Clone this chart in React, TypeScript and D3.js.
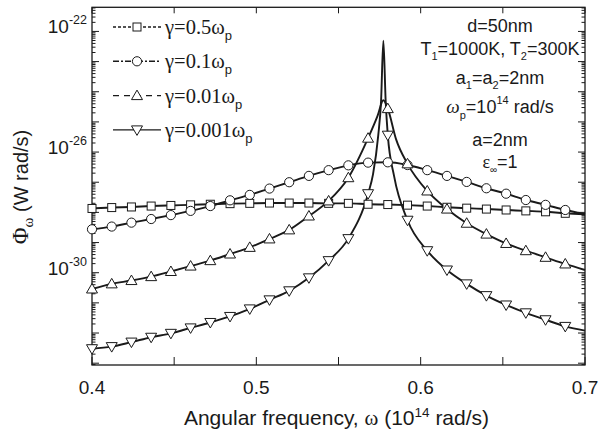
import React from 'react';
import * as d3 from 'd3';

const W = 607;
const H = 430;

// axis ticks
const X_MAJOR = [0.4, 0.5, 0.6, 0.7];
const X_MINOR = [0.45, 0.55, 0.65];
const X_LABELS = ['0.4', '0.5', '0.6', '0.7'];
const Y_LABEL_EXP = [-22, -26, -30];

// marker abscissae (10^14 rad/s)
const MARKER_X = [0.4, 0.412, 0.424, 0.436, 0.448, 0.46, 0.472, 0.484, 0.496, 0.508, 0.52, 0.532, 0.544,
  0.556, 0.568, 0.58, 0.592, 0.604, 0.616, 0.628, 0.64, 0.652, 0.664, 0.676, 0.688];

// gamma = 0.5 wp  (values are log10 of Phi)
const G05_X = [0.4, 0.412, 0.424, 0.436, 0.448, 0.46, 0.472, 0.484, 0.496, 0.508, 0.52, 0.532, 0.544,
  0.556, 0.568, 0.58, 0.592, 0.604, 0.616, 0.628, 0.64, 0.652, 0.664, 0.676, 0.688, 0.7];
const G05_EXP = [-27.87, -27.84, -27.82, -27.79, -27.77, -27.75, -27.73, -27.71, -27.70, -27.69, -27.69, -27.69,
  -27.70, -27.70, -27.73, -27.74, -27.76, -27.79, -27.83, -27.86, -27.89, -27.92, -27.95, -27.98, -28.03, -28.06];

// gamma = 0.1 wp
const G01_X = G05_X;
const G01_EXP = [-28.56, -28.47, -28.34, -28.22, -28.09, -27.95, -27.79, -27.60, -27.42, -27.21, -27.00, -26.79,
  -26.60, -26.44, -26.35, -26.34, -26.43, -26.60, -26.79, -26.99, -27.20, -27.38, -27.59, -27.75, -27.92, -28.06];

// gamma = 0.01 wp
const G001_X = [0.4, 0.412, 0.424, 0.436, 0.448, 0.46, 0.472, 0.484, 0.496, 0.508, 0.52, 0.532, 0.544,
  0.556, 0.568, 0.5737, 0.5773, 0.58, 0.585, 0.592, 0.604, 0.616, 0.628, 0.64, 0.652, 0.664, 0.676, 0.688, 0.7];
const G001_EXP = [-30.54, -30.37, -30.26, -30.13, -29.96, -29.78, -29.60, -29.38, -29.16, -28.88, -28.58, -28.12,
  -27.62, -26.85, -25.54, -24.81, -24.28, -24.56, -25.57, -26.39, -27.29, -27.89, -28.36, -28.72, -29.03, -29.27,
  -29.49, -29.71, -29.91];

// gamma = 0.001 wp
const G0001_X = [0.4, 0.412, 0.424, 0.436, 0.448, 0.46, 0.472, 0.484, 0.496, 0.508, 0.52, 0.532, 0.544,
  0.556, 0.568, 0.571, 0.5742, 0.5759, 0.5773, 0.5787, 0.58, 0.5838, 0.592, 0.604, 0.616, 0.628, 0.64, 0.652,
  0.664, 0.676, 0.688, 0.7];
const G0001_EXP = [-32.52, -32.45, -32.30, -32.14, -32.01, -31.83, -31.65, -31.45, -31.20, -30.90, -30.60, -30.17,
  -29.60, -28.87, -27.38, -26.74, -25.44, -24.31, -22.31, -24.31, -25.44, -26.79, -28.26, -29.27, -29.91, -30.37,
  -30.76, -31.07, -31.33, -31.56, -31.78, -31.92];

const LEGEND_LABELS = ['0.5', '0.1', '0.01', '0.001'];

const M = { left: 92, right: 585, top: 7.3, bottom: 365 };

const x = d3.scaleLinear().domain([0.4, 0.7]).range([M.left, M.right]);
const y = d3.scaleLog().domain([Math.pow(10, -33.06), Math.pow(10, -21.2)]).range([M.bottom, M.top]);

type Series = { xs: number[]; exps: number[]; marker: string; dash: string };
const SERIES: Series[] = [
  { xs: G05_X, exps: G05_EXP, marker: 'square', dash: '3,2' },
  { xs: G01_X, exps: G01_EXP, marker: 'circle', dash: '6,2,2,2' },
  { xs: G001_X, exps: G001_EXP, marker: 'up', dash: '6,5' },
  { xs: G0001_X, exps: G0001_EXP, marker: 'down', dash: '' },
];

const line = d3
  .line<[number, number]>()
  .x((d) => x(d[0]))
  .y((d) => y(Math.pow(10, d[1])))
  .curve(d3.curveMonotoneX);

const INK = '#1a1a1a';

function Marker({ kind, cx, cy }: { kind: string; cx: number; cy: number }) {
  const common = { fill: '#fff', stroke: INK, strokeWidth: 1 };
  if (kind === 'square') return <rect x={cx - 4} y={cy - 4} width={8} height={8} {...common} />;
  if (kind === 'circle') return <circle cx={cx} cy={cy} r={4.6} {...common} />;
  if (kind === 'up')
    return <path d={`M${cx},${cy - 5.5}L${cx + 5.5},${cy + 4}L${cx - 5.5},${cy + 4}Z`} {...common} />;
  return <path d={`M${cx},${cy + 5.5}L${cx + 5.5},${cy - 4}L${cx - 5.5},${cy - 4}Z`} {...common} />;
}

export default function App() {
  const [yMin, yMax] = y.domain();
  const logTicks: { v: number; major: boolean }[] = [];
  for (let e = Math.floor(Math.log10(yMin)); e <= Math.ceil(Math.log10(yMax)); e++) {
    for (let k = 1; k <= 9; k++) {
      const v = k * Math.pow(10, e);
      if (v >= yMin && v <= yMax) logTicks.push({ v, major: k === 1 });
    }
  }
  const sans = 'Liberation Sans, Arial, Helvetica, sans-serif';
  const serif = 'Liberation Serif, Times New Roman, serif';

  const annX = 500;

  return (
    <svg width={W} height={H} style={{ position: 'absolute', left: 0, top: 0, background: '#fff' }}
      fontFamily={sans} fill={INK}>
      {/* ticks */}
      <g stroke={INK} strokeWidth={1}>
        {logTicks.map((t, i) => (
          <g key={'yt' + i}>
            <line x1={M.left} x2={M.left + (t.major ? 7 : 3.5)} y1={y(t.v)} y2={y(t.v)} />
            <line x1={M.right} x2={M.right - (t.major ? 7 : 3.5)} y1={y(t.v)} y2={y(t.v)} />
          </g>
        ))}
        {X_MAJOR.concat(X_MINOR).map((v, i) => (
          <g key={'xt' + i}>
            <line x1={x(v)} x2={x(v)} y1={M.bottom} y2={M.bottom - 8} />
            <line x1={x(v)} x2={x(v)} y1={M.top} y2={M.top + 6} />
          </g>
        ))}
      </g>
      {/* frame */}
      <rect x={M.left} y={M.top} width={M.right - M.left} height={M.bottom - M.top} fill="none"
        stroke={INK} strokeWidth={1.3} />

      {/* curves */}
      {SERIES.map((s, i) => (
        <path key={'l' + i} d={line(s.xs.map((v, j) => [v, s.exps[j]] as [number, number])) || ''}
          fill="none" stroke={INK} strokeWidth={1.9} strokeLinejoin="round" />
      ))}
      {SERIES.map((s, i) =>
        s.xs.map((v, j) =>
          MARKER_X.some((m) => Math.abs(m - v) < 1e-9) ? (
            <Marker key={`m${i}-${j}`} kind={s.marker} cx={x(v)} cy={y(Math.pow(10, s.exps[j]))} />
          ) : null
        )
      )}

      {/* x tick labels */}
      {X_MAJOR.map((v, i) => (
        <text key={'xl' + i} x={x(v)} y={394} textAnchor="middle" fontSize={19}>
          {X_LABELS[i]}
        </text>
      ))}
      {/* y tick labels */}
      {Y_LABEL_EXP.map((e) => (
        <text key={'yl' + e} x={87} y={y(Math.pow(10, e)) + 2} textAnchor="end" fontSize={19}>
          10<tspan fontSize={12.5} dy={-9}>{e}</tspan>
        </text>
      ))}

      {/* axis titles */}
      <text x={(M.left + M.right) / 2 - 2} y={425} textAnchor="middle" fontSize={21}>
        Angular frequency, <tspan fontFamily={serif}>ω</tspan> (10<tspan fontSize={13.5} dy={-8}>14</tspan>
        <tspan dy={8}> rad/s)</tspan>
      </text>
      <text transform="translate(28,187) rotate(-90)" textAnchor="middle" fontSize={20}>
        <tspan fontFamily={serif} fontSize={23}>Φ</tspan>
        <tspan fontFamily={serif} fontSize={15} dy={5}>ω</tspan>
        <tspan dy={-5}> (W rad/s)</tspan>
      </text>

      {/* legend */}
      {SERIES.map((s, i) => {
        const ly = 27 + i * 34.3;
        return (
          <g key={'lg' + i}>
            <line x1={113} x2={161} y1={ly} y2={ly} stroke={INK} strokeWidth={1.4}
              strokeDasharray={s.dash || undefined} />
            <Marker kind={s.marker} cx={137} cy={ly} />
            <text x={165} y={ly + 7} fontFamily={serif} fontSize={20.5}>
              γ={LEGEND_LABELS[i]}ω<tspan fontFamily={sans} fontSize={13} dy={6}>p</tspan>
            </text>
          </g>
        );
      })}

      {/* annotation */}
      <g fontSize={18} textAnchor="middle">
        <text x={annX} y={31.7}>d=50nm</text>
        <text x={annX} y={54.5}>
          T<tspan fontSize={11} dy={5}>1</tspan><tspan dy={-5}>=1000K, T</tspan>
          <tspan fontSize={11} dy={5}>2</tspan><tspan dy={-5}>=300K</tspan>
        </text>
        <text x={annX} y={84}>
          a<tspan fontSize={11} dy={5}>1</tspan><tspan dy={-5}>=a</tspan>
          <tspan fontSize={11} dy={5}>2</tspan><tspan dy={-5}>=2nm</tspan>
        </text>
        <text x={annX} y={113}>
          <tspan fontFamily={serif} fontStyle="italic" fontSize={19}>ω</tspan>
          <tspan fontSize={11} dy={6}>p</tspan><tspan dy={-6}>=10</tspan>
          <tspan fontSize={11} dy={-9}>14</tspan><tspan dy={9}> rad/s</tspan>
        </text>
        <text x={annX} y={145.7}>a=2nm</text>
        <text x={annX} y={167.7}>
          <tspan fontFamily={serif}>ε</tspan><tspan fontSize={10} dy={5}>∞</tspan>
          <tspan dy={-5}>=1</tspan>
        </text>
      </g>
    </svg>
  );
}
